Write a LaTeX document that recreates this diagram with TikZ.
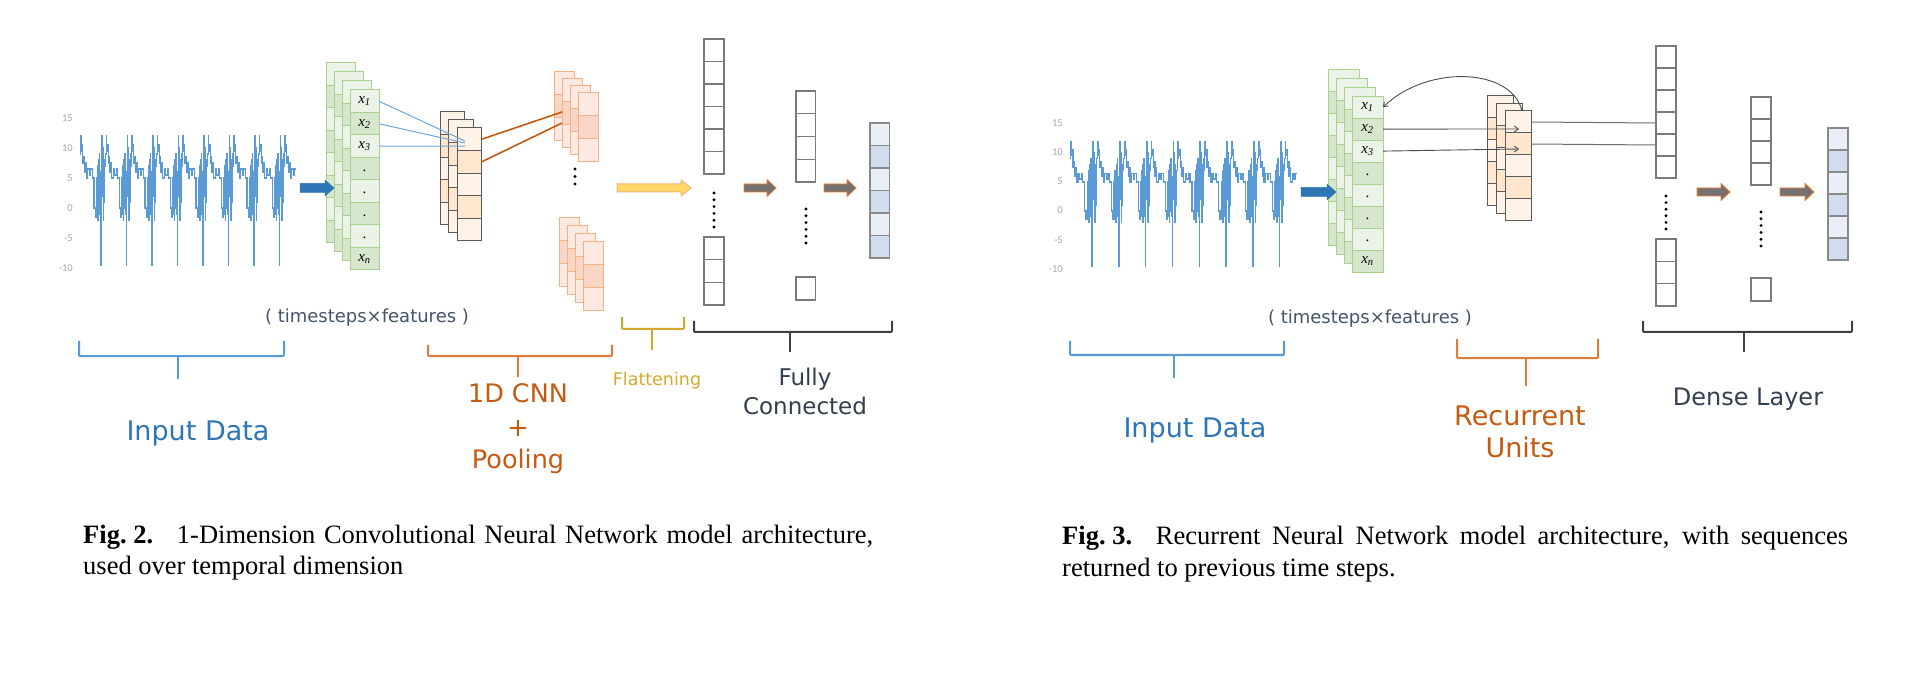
\documentclass[tikz,border=0pt]{standalone}
\usepackage{fontspec}
\setmainfont{Liberation Serif}
\newfontfamily\labfont{DejaVu Sans}
\newfontfamily\axfont{Carlito}
\usetikzlibrary{arrows.meta}
\definecolor{greenL}{HTML}{EBF2E7}
\definecolor{greenD}{HTML}{D6E7CD}
\definecolor{greenB}{HTML}{A9D18E}
\definecolor{convL}{HTML}{FFF3E7}
\definecolor{convD}{HTML}{FFE6CD}
\definecolor{convB}{HTML}{5A5A5A}
\definecolor{poolL}{HTML}{FCEAE2}
\definecolor{poolD}{HTML}{F8D5C5}
\definecolor{poolB}{HTML}{F4B183}
\definecolor{fcB}{HTML}{7A7A7A}
\definecolor{outL}{HTML}{E9EEF7}
\definecolor{outD}{HTML}{D0DDEF}
\definecolor{outB}{HTML}{8A8A8A}
\definecolor{sigC}{HTML}{5B9BD5}
\definecolor{blueA}{HTML}{2E75B6}
\definecolor{blueT}{HTML}{2E75B6}
\definecolor{blueB}{HTML}{5B9BD5}
\definecolor{orangeT}{HTML}{C55A11}
\definecolor{orangeB}{HTML}{E07B39}
\definecolor{goldC}{HTML}{D4AA2C}
\definecolor{darkT}{HTML}{333F50}
\definecolor{darkB}{HTML}{404040}
\definecolor{tsC}{HTML}{44546A}
\definecolor{axC}{HTML}{A6A6A6}
\definecolor{yellowF}{HTML}{FFD966}
\definecolor{yellowB}{HTML}{F4B183}
\definecolor{grayF}{HTML}{767171}
\definecolor{grayB}{HTML}{ED7D31}
\definecolor{fanC}{HTML}{6FA8DC}
\definecolor{recC}{HTML}{4D4D4D}

% column of cells: prefix, x, y, width, cell height, n, colA, colB, border
\newcommand{\cellcol}[9]{%
  \foreach \i in {1,...,#6}{%
    \pgfmathtruncatemacro\odd{mod(\i,2)}%
    \ifnum\odd=1 \def\cc{#7}\else\def\cc{#8}\fi
    \node[cell, fill=\cc, draw=#9, minimum width=#4pt, minimum height=#5pt, anchor=north west] (#1-\i) at (#2, {#3+(\i-1)*#5}) {};
  }%
}
% block arrow: x1, x2, y, shaft half, head half, head length, style
\newcommand{\blockarrow}[7]{%
  \filldraw[#7] (#1,{#3-#4}) -- ({#2-#6},{#3-#4}) -- ({#2-#6},{#3-#5}) -- (#2,#3) -- ({#2-#6},{#3+#5}) -- ({#2-#6},{#3+#4}) -- (#1,{#3+#4}) -- cycle;}
% dots: x, y1, y2, intervals
\newcommand{\dotcol}[4]{%
  \foreach \d in {0,...,#4}{\fill ({#1},{#2+(#3-#2)*\d/#4}) circle (1.6pt);}}
% bracket: x1, x2, ytop, yh, xm, ybot, colour
\newcommand{\bracketmark}[7]{%
  \draw[brk, draw=#7] (#1,#3) -- (#1,#4) -- (#2,#4) -- (#2,#3);
  \draw[brk, draw=#7] (#5,#4) -- (#5,#6);}

\def\sigpat{0/9, 0.03/12, 0.05/9.5, 0.08/10.5, 0.11/7.5, 0.14/8.5, 0.17/6, 0.20/7.5, 0.24/5, 0.30/6.5, 0.36/5.5, 0.42/6.5, 0.48/5, 0.55/0, 0.60/-1.5, 0.64/5, 0.66/-1, 0.68/7, 0.70/-2, 0.72/8, 0.74/0, 0.76/9, 0.78/-1, 0.80/6, 0.82/-9.5, 0.83/3, 0.85/12, 0.87/2, 0.89/10, 0.91/-2, 0.93/8, 0.95/1, 0.97/7}
\def\sigpatB{0/9, 0.03/12, 0.05/9.5, 0.08/10.5, 0.11/7.5, 0.14/8.5, 0.17/6, 0.20/7.5, 0.24/5, 0.30/6.5, 0.36/5.5, 0.42/6.5, 0.46/6.5}

\begin{document}
\begin{tikzpicture}[x=1pt,y=-1pt,
  cell/.style={rectangle, inner sep=0pt, outer sep=0pt, line width=1pt},
  sig/.style={draw=sigC, line width=1.2pt, line join=miter},
  brk/.style={line width=2pt, rounded corners=1pt},
  axl/.style={font=\axfont\fontsize{10.5}{12}\selectfont, text=axC, inner sep=0pt, anchor=east},
  cx/.style={font=\fontsize{15}{16}\selectfont, inner sep=0pt},
  lab/.style={inner sep=0pt, anchor=base},
  capt/.style={font=\fontsize{26.5}{30}\selectfont, inner sep=0pt, anchor=base west},
  fan/.style={draw=fanC, line width=1pt},
  oline/.style={draw=orangeT, line width=1.6pt},
  rarr/.style={draw=recC, line width=0.9pt, -{Straight Barb[length=4pt,width=6pt]}},
  gline/.style={draw=fcB!90!black, line width=1pt},
  bluearr/.style={fill=blueA, draw=blueA, line width=0.5pt},
  yelarr/.style={fill=yellowF, draw=yellowB, line width=1pt},
  grayarr/.style={fill=grayF, draw=grayB, line width=0.8pt}]

\useasboundingbox (0,0) rectangle (1928,676);
\fill[white] (0,0) rectangle (1928,676);

%================ LEFT PANEL =================
% axis labels
\foreach \v [count=\j] in {15,10,5,0,-5,-10}{
  \node[axl] (axl\j) at (73,{118+30*(\j-1)}) {\v};}
% signal
\begin{scope}[shift={(80,208)}, xscale=25.5, yscale=-6]
\draw[sig] (0,9) \foreach \k in {0,...,7}{ \foreach \u/\v in \sigpat { -| ({\k+\u},\v) } }
  \foreach \u/\v in \sigpatB { -| ({8+\u},\v) };
\end{scope}

% green input stack
\foreach \L in {0,...,3}{
  \pgfmathsetmacro\lx{326+8*\L}\pgfmathsetmacro\ly{63+9*\L}
  \cellcol{gl\L}{\lx}{\ly}{29}{22.5}{8}{greenL}{greenD}{greenB}}
\node[cx] (lxa) at (gl3-1) {\textit{x}\textsubscript{\textit{1}}};
\node[cx] (lxb) at (gl3-2) {\textit{x}\textsubscript{\textit{2}}};
\node[cx] (lxc) at (gl3-3) {\textit{x}\textsubscript{\textit{3}}};
\foreach \c in {4,...,7}{\node[cx] (lxd\c) at ([yshift=-2pt]gl3-\c) {.};}
\node[cx] (lxn) at (gl3-8) {\textit{x}\textsubscript{\textit{n}}};
\blockarrow{300}{334}{188}{4.5}{8}{9}{bluearr}

% conv stack
\foreach \L in {0,...,2}{
  \pgfmathsetmacro\lx{440+8.5*\L}\pgfmathsetmacro\ly{112+8*\L}
  \cellcol{cl\L}{\lx}{\ly}{24.5}{22.6}{5}{convL}{convD}{convB}}
\coordinate (bf1) at (465,141);
\coordinate (bf2) at (465,143);
\coordinate (bf3) at (465,146);
\draw[fan] (gl3-1.east) -- (bf1);
\draw[fan] (gl3-2.east) -- (bf2);
\draw[fan] (gl3-3.east) -- (bf3);

% pooled stacks
\foreach \L in {0,...,3}{
  \pgfmathsetmacro\lx{554+8.3*\L}\pgfmathsetmacro\ly{72+7*\L}
  \cellcol{pt\L}{\lx}{\ly}{20}{23}{3}{poolL}{poolD}{poolB}}
\foreach \L in {0,...,3}{
  \pgfmathsetmacro\lx{559+8.3*\L}\pgfmathsetmacro\ly{218+7.7*\L}
  \cellcol{pb\L}{\lx}{\ly}{20}{23}{3}{poolL}{poolD}{poolB}}
\coordinate (op1) at (562,112);
\coordinate (op2) at (562,123);
\draw[oline] (cl2-1.east) -- (op1);
\draw[oline] (cl2-2.east) -- (op2);
\dotcol{575}{169}{184}{2}

\blockarrow{617}{691}{188}{4}{8}{10}{yelarr}

% fully connected
\begin{scope}[cell/.append style={line width=1.3pt}]
\cellcol{fa}{704}{39}{20}{22.5}{6}{white}{white}{fcB}
\cellcol{fb}{704}{237}{20}{22.7}{3}{white}{white}{fcB}
\cellcol{fc}{796}{91}{19.5}{22.75}{4}{white}{white}{fcB}
\cellcol{fd}{796}{277}{19.5}{23}{1}{white}{white}{fcB}
\cellcol{fo}{870}{123}{19.5}{22.5}{6}{outL}{outD}{outB}
\end{scope}
\dotcol{714}{193}{227}{5}
\dotcol{806}{209}{243}{5}
\blockarrow{744}{776}{188}{4}{8.5}{9}{grayarr}
\blockarrow{824}{856}{188}{4}{8.5}{9}{grayarr}

% labels and brackets
\node[lab, font=\labfont\fontsize{18}{20}\selectfont, text=tsC] (tsl) at (367,323) {( timesteps×features )};
\bracketmark{79}{284}{341}{356}{178}{379}{blueB}
\node[lab, font=\labfont\fontsize{27}{30}\selectfont, text=blueT] (inl) at (198,440) {Input Data};
\bracketmark{428}{612}{345}{356}{518}{377}{orangeB}
\node[lab, font=\labfont\fontsize{25.5}{30}\selectfont, text=orangeT] (cnna) at (518,402) {1D CNN};
\node[lab, font=\labfont\fontsize{25.5}{30}\selectfont, text=orangeT] (cnnb) at (518,436) {+};
\node[lab, font=\labfont\fontsize{25.5}{30}\selectfont, text=orangeT] (cnnc) at (518,468) {Pooling};
\bracketmark{622}{684}{317}{329}{652}{350}{goldC}
\node[lab, font=\labfont\fontsize{17.5}{20}\selectfont, text=goldC] (flat) at (657,385) {Flattening};
\bracketmark{694}{892}{321}{332}{790}{352}{darkB}
\node[lab, font=\labfont\fontsize{23}{28}\selectfont, text=darkT] (fca) at (805,385) {Fully};
\node[lab, font=\labfont\fontsize{23}{28}\selectfont, text=darkT] (fcb2) at (805,414) {Connected};

\node[capt] (cap2a) at (83,543) {\makebox[790pt][s]{\textbf{Fig.\hspace{0.25em}2.}\hspace{0.9em}1-Dimension Convolutional Neural Network model architecture,}};
\node[capt] (cap2b) at (83,574) {used over temporal dimension};

%================ RIGHT PANEL =================
\foreach \v [count=\j] in {15,10,5,0,-5,-10}{
  \node[axl] (axr\j) at (1063,{123+29.2*(\j-1)}) {\v};}
\begin{scope}[shift={(1070,211)}, xscale=26.8, yscale=-5.8]
\draw[sig] (0,9) \foreach \k in {0,...,7}{ \foreach \u/\v in \sigpat { -| ({\k+\u},\v) } }
  \foreach \u/\v in \sigpatB { -| ({8+\u},\v) };
\end{scope}

\foreach \L in {0,...,3}{
  \pgfmathsetmacro\lx{1328+8*\L}\pgfmathsetmacro\ly{70+8.7*\L}
  \cellcol{gr\L}{\lx}{\ly}{31}{22}{8}{greenL}{greenD}{greenB}}
\node[cx] (rxa) at (gr3-1) {\textit{x}\textsubscript{\textit{1}}};
\node[cx] (rxb) at (gr3-2) {\textit{x}\textsubscript{\textit{2}}};
\node[cx] (rxc) at (gr3-3) {\textit{x}\textsubscript{\textit{3}}};
\foreach \c in {4,...,7}{\node[cx] (rxd\c) at ([yshift=-2pt]gr3-\c) {.};}
\node[cx] (rxn) at (gr3-8) {\textit{x}\textsubscript{\textit{n}}};
\blockarrow{1301}{1336}{192}{4.5}{8}{9}{bluearr}

\foreach \L in {0,...,2}{
  \pgfmathsetmacro\lx{1487+9*\L}\pgfmathsetmacro\ly{96+7.5*\L}
  \cellcol{cr\L}{\lx}{\ly}{26}{22}{5}{convL}{convD}{convB}}

\coordinate (ra2) at (1519,129);
\coordinate (ra3) at (1519,149);
\draw[rarr] (gr3-2.east) -- (ra2);
\draw[rarr] (gr3-3.east) -- (ra3);
\coordinate (rtop) at (1522,111);
\draw[rarr] (rtop) .. controls (1512,68) and (1428,64) .. (gr3-1.east);

\begin{scope}[cell/.append style={line width=1.3pt}]
\cellcol{da}{1656}{46}{20}{22}{6}{white}{white}{fcB}
\cellcol{db}{1656}{239}{20}{22.3}{3}{white}{white}{fcB}
\cellcol{dc}{1751}{97}{20}{22}{4}{white}{white}{fcB}
\cellcol{dd}{1751}{278}{20}{23}{1}{white}{white}{fcB}
\cellcol{do}{1828}{128}{20}{22}{6}{outL}{outD}{outB}
\end{scope}
\draw[gline] (cr2-1.east) -- (da-4.west);
\draw[gline] (cr2-2.east) -- (da-5.west);
\dotcol{1666}{196}{229}{5}
\dotcol{1761}{212}{246}{5}
\blockarrow{1697}{1730}{192}{4}{8.5}{9}{grayarr}
\blockarrow{1780}{1814}{192}{4}{8.5}{9}{grayarr}

\node[lab, font=\labfont\fontsize{18}{20}\selectfont, text=tsC] (tsr) at (1370,324) {( timesteps×features )};
\bracketmark{1070}{1284}{341}{355}{1174}{378}{blueB}
\node[lab, font=\labfont\fontsize{27}{30}\selectfont, text=blueT] (inr) at (1195,437) {Input Data};
\bracketmark{1457}{1598}{339}{358}{1526}{386}{orangeB}
\node[lab, font=\labfont\fontsize{27}{30}\selectfont, text=orangeT] (reca) at (1520,425) {Recurrent};
\node[lab, font=\labfont\fontsize{27}{30}\selectfont, text=orangeT] (recb) at (1520,457) {Units};
\bracketmark{1643}{1852}{321}{332}{1744}{352}{darkB}
\node[lab, font=\labfont\fontsize{24}{28}\selectfont, text=darkT] (dense) at (1748,405) {Dense Layer};

\node[capt] (cap3a) at (1062,544) {\makebox[786pt][s]{\textbf{Fig.\hspace{0.25em}3.}\hspace{0.9em}Recurrent Neural Network model architecture, with sequences}};
\node[capt] (cap3b) at (1062,576) {returned to previous time steps.};
\end{tikzpicture}
\end{document}
